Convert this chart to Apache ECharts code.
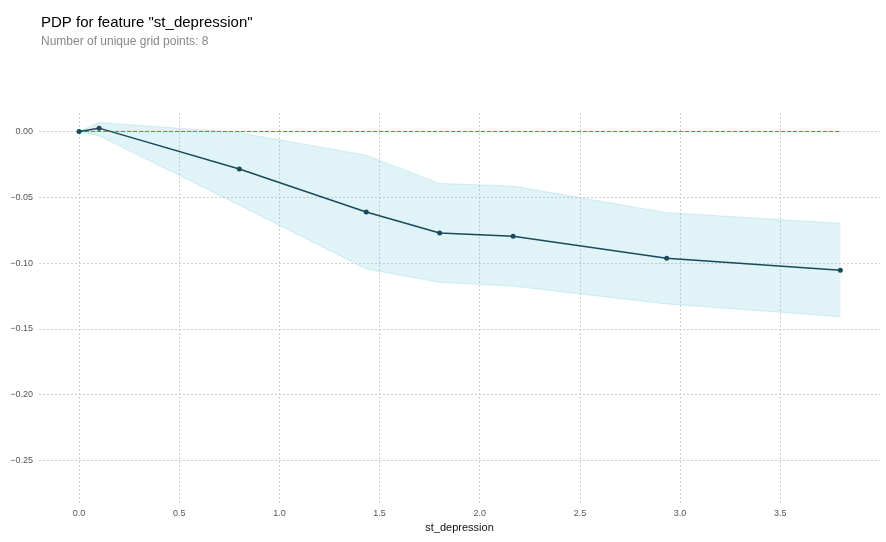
<!DOCTYPE html>
<html>
<head>
<meta charset="utf-8">
<script src="https://cdn.jsdelivr.net/npm/echarts@6/dist/echarts.min.js"></script>
<style>
html,body{margin:0;padding:0;background:#fff;}
#chart{width:886px;height:542px;}
</style>
</head>
<body>
<div id="chart"></div>
<script>
// Data
var gridX = [0, 0.1, 0.8, 1.4333, 1.8, 2.1667, 2.9333, 3.8];
var pdpValues = [0, 0.0025, -0.0285, -0.0612, -0.0772, -0.0797, -0.0964, -0.1055];
var upperValues = [0, 0.0068, -0.001, -0.018, -0.0395, -0.0415, -0.0617, -0.0698];
var lowerValues = [0, -0.0033, -0.056, -0.1045, -0.1146, -0.1175, -0.131, -0.1407];
var titleText = 'PDP for feature "st_depression"';
var subtitleText = 'Number of unique grid points: 8';
var xAxisName = 'st_depression';

var font = 'Liberation Sans, Arial, Helvetica, sans-serif';
var bandData = gridX.map(function (x, i) { return [x, lowerValues[i], upperValues[i]]; });
var lowerData = gridX.map(function (x, i) { return [x, lowerValues[i]]; });
var upperData = gridX.map(function (x, i) { return [x, upperValues[i]]; });
var pdpData = gridX.map(function (x, i) { return [x, pdpValues[i]]; });
var zeroData = [[gridX[0], 0], [gridX[gridX.length - 1], 0]];

function renderBand(params, api) {
  if (params.dataIndex !== 0) return null;
  var pts = [];
  for (var i = 0; i < bandData.length; i++) pts.push(api.coord([bandData[i][0], bandData[i][2]]));
  for (var j = bandData.length - 1; j >= 0; j--) pts.push(api.coord([bandData[j][0], bandData[j][1]]));
  return {
    type: 'polygon',
    shape: {points: pts},
    style: {fill: 'rgba(102,194,215,0.2)', stroke: 'none'},
    silent: true
  };
}

var chart = echarts.init(document.getElementById('chart'), null, {renderer: 'canvas'});
chart.setOption({
  animation: false,
  backgroundColor: '#ffffff',
  title: [
    {text: titleText, left: 41, top: 15, padding: 0, textStyle: {fontFamily: font, fontSize: 15, fontWeight: 'normal', color: '#000'}},
    {text: subtitleText, left: 41, top: 36, padding: 0, textStyle: {fontFamily: font, fontSize: 12, fontWeight: 'normal', color: '#888'}}
  ],
  grid: {left: 39, right: 6, top: 113, bottom: 38, containLabel: false},
  xAxis: {
    type: 'value', min: -0.2, max: 3.998, splitNumber: 8,
    name: xAxisName, nameLocation: 'middle', nameGap: 17,
    nameTextStyle: {fontFamily: font, fontSize: 11, color: '#111'},
    axisLine: {show: false}, axisTick: {show: false},
    axisLabel: {fontFamily: font, fontSize: 9, color: '#555', margin: 5, showMinLabel: false, showMaxLabel: false,
      formatter: function (v) { return v.toFixed(1); }},
    splitLine: {show: true, showMinLine: false, showMaxLine: false, lineStyle: {color: '#cfcfcf', type: [2, 2], width: 1}}
  },
  yAxis: {
    type: 'value', min: -0.283, max: 0.014, splitNumber: 6,
    axisLine: {show: false}, axisTick: {show: false},
    axisLabel: {fontFamily: font, fontSize: 9, color: '#555', margin: 6, showMinLabel: false, showMaxLabel: false,
      formatter: function (v) { var s = Math.abs(v).toFixed(2); return (v < -1e-9 ? '\u2212' : '') + s; }},
    splitLine: {show: true, showMinLine: false, showMaxLine: false, lineStyle: {color: '#cfcfcf', type: [2, 2], width: 1}}
  },
  series: [
    {type: 'custom', name: 'band', data: bandData, renderItem: renderBand, encode: {x: 0, y: [1, 2]}, silent: true, z: 1},
    {type: 'line', name: 'lower', data: lowerData, symbol: 'none', silent: true,
      lineStyle: {color: 'rgba(102,194,215,0.25)', width: 1}, z: 1},
    {type: 'line', name: 'upper', data: upperData, symbol: 'none', silent: true,
      lineStyle: {color: 'rgba(102,194,215,0.25)', width: 1}, z: 1},
    {type: 'line', name: 'zero', data: zeroData, symbol: 'none', silent: true,
      lineStyle: {color: '#d9532f', width: 1, type: [4, 2]}, z: 2},
    {type: 'line', name: 'pdp', data: pdpData, symbol: 'circle', symbolSize: 5, silent: true,
      itemStyle: {color: '#1a4a5a'}, lineStyle: {color: '#1a4a5a', width: 1.5}, z: 3}
  ]
});
</script>
</body>
</html>
